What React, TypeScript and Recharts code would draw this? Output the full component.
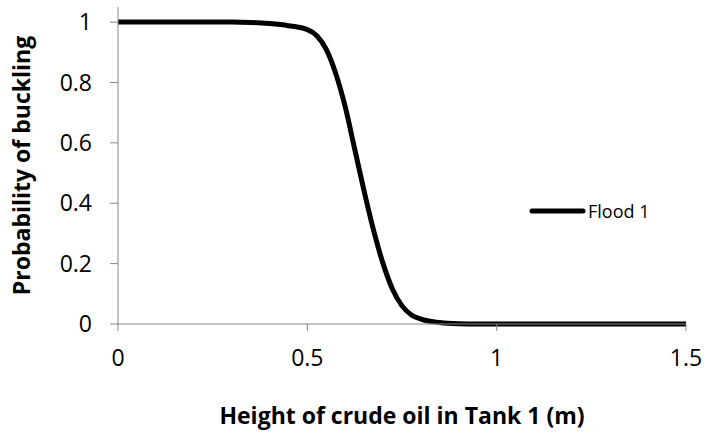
import { LineChart, Line, XAxis, YAxis, Legend, Label } from "recharts";

const heights = [
  0, 0.05, 0.1, 0.15, 0.2, 0.25, 0.3, 0.35, 0.4, 0.45, 0.5, 0.525, 0.55, 0.575, 0.6, 0.625,
  0.65, 0.675, 0.7, 0.725, 0.75, 0.775, 0.8, 0.85, 0.9, 0.95, 1.0, 1.1, 1.2, 1.3, 1.4, 1.5,
];
const flood1 = [
  1, 1, 1, 1, 1, 1, 1, 0.999, 0.995, 0.988, 0.975, 0.955, 0.91, 0.83, 0.72, 0.58,
  0.44, 0.31, 0.2, 0.115, 0.06, 0.03, 0.016, 0.005, 0.001, 0, 0, 0, 0, 0, 0, 0,
];
const xTicks = [0, 0.5, 1, 1.5];
const yTicks = [0, 0.2, 0.4, 0.6, 0.8, 1];

const data = heights.map((h, i) => ({ h, p: flood1[i] }));

const font = "'Open Sans', sans-serif";
const axisGray = "#868686";

function YTitle(props: any) {
  const vb = props.viewBox;
  const x = vb.x + 21;
  const y = vb.y + vb.height / 2;
  return (
    <text
      x={x}
      y={y}
      transform={`rotate(-90, ${x}, ${y})`}
      textAnchor="middle"
      dominantBaseline="central"
      fontFamily={font}
      fontWeight="bold"
      fontSize={23}
      fill="#000"
    >
      Probability of buckling
    </text>
  );
}

function XTitle(props: any) {
  const vb = props.viewBox;
  return (
    <text
      x={vb.x + vb.width / 2}
      y={vb.y + 100}
      textAnchor="middle"
      fontFamily={font}
      fontWeight="bold"
      fontSize={23}
      fill="#000"
    >
      Height of crude oil in Tank 1 (m)
    </text>
  );
}

function LegendBox() {
  return (
    <svg width={140} height={26} style={{ display: "block" }}>
      <line x1={3} y1={13} x2={54} y2={13} stroke="#000" strokeWidth={5} strokeLinecap="round" />
      <text x={59} y={13} dominantBaseline="central" fontFamily={font} fontSize={18} fill="#000">
        Flood 1
      </text>
    </svg>
  );
}

export default function App() {
  return (
    <div style={{ position: "absolute", left: 0, top: 0, background: "#fff" }}>
      <LineChart
        width={706}
        height={438}
        data={data}
        margin={{ top: 7, right: 20, bottom: 0, left: 0 }}
      >
        <XAxis
          dataKey="h"
          type="number"
          domain={[0, 1.5]}
          ticks={xTicks}
          height={114}
          stroke={axisGray}
          tickSize={7}
          tickMargin={19}
          tick={{ fill: "#000", fontFamily: font, fontSize: 23 }}
        >
          <Label content={XTitle} />
        </XAxis>
        <YAxis
          type="number"
          domain={[0, 1.05]}
          ticks={yTicks}
          width={118}
          stroke={axisGray}
          tickSize={8}
          tickMargin={18}
          tick={{ fill: "#000", fontFamily: font, fontSize: 23 }}
        >
          <Label content={YTitle} />
        </YAxis>
        <Legend
          layout="horizontal"
          verticalAlign="middle"
          align="center"
          content={LegendBox}
          wrapperStyle={{ position: "absolute", left: 529, top: 198, width: 140 }}
        />
        <Line
          type="monotone"
          dataKey="p"
          name="Flood 1"
          stroke="#000"
          strokeWidth={5}
          dot={false}
          isAnimationActive={false}
        />
      </LineChart>
    </div>
  );
}
